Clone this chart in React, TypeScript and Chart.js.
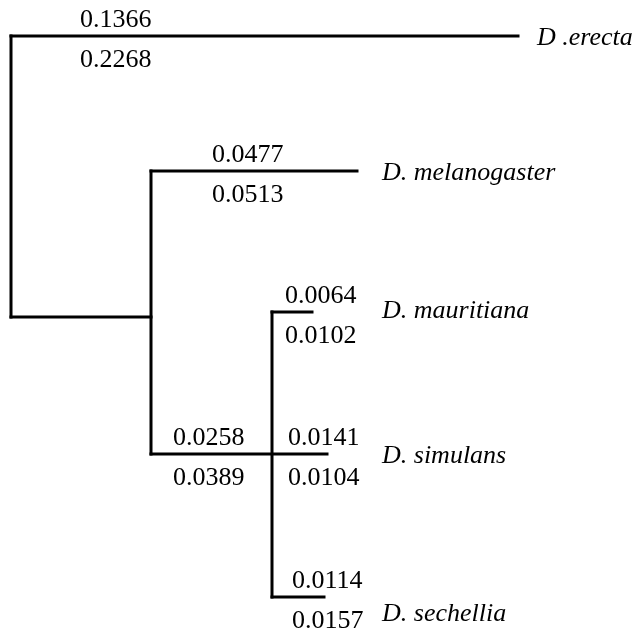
import React, { useEffect, useRef } from "react";
import { Chart, registerables } from "chart.js";

Chart.register(...registerables);

// Taxa (tips), top to bottom
const taxa = ["D .erecta", "D. melanogaster", "D. mauritiana", "D. simulans", "D. sechellia"];
// Vertical layout row of each tip
const tipRow = [0, 0.963, 1.968, 2.98, 4.0];
// Horizontal end of each tip branch (layout depth units)
const tipEnd = [5.07, 3.46, 3.01, 3.16, 3.13];
// Depth of the node each tip branch starts from
const tipParent = [0, 1.4, 2.61, 1.4, 2.61];

// Internal nodes: depth and vertical extent (rows)
const nodeDepth = [0, 1.4, 2.61];
const nodeTop = [0, 0.963, 1.968];
const nodeBottom = [2.004, 2.98, 4.0];
// Row at which root connects to node 1
const node1Row = 2.004;

// Branch values printed above / below each tip branch
const upperValues = ["0.1366", "0.0477", "0.0064", "0.0141", "0.0114"];
const lowerValues = ["0.2268", "0.0513", "0.0102", "0.0104", "0.0157"];
const valueAnchor = [0.69, 2.01, 2.74, 2.77, 2.81];
// Internal branch (node1 -> simulans clade) values
const internalUpper = "0.0258";
const internalLower = "0.0389";
const internalAnchor = 1.62;
const internalRow = 2.98;

export default function App() {
  const ref = useRef<HTMLCanvasElement | null>(null);

  useEffect(() => {
    document.body.style.margin = "0";
    const canvas = ref.current;
    if (!canvas) return;

    const seg = (x1: number, y1: number, x2: number, y2: number) => ({
      data: [
        { x: x1, y: y1 },
        { x: x2, y: y2 },
      ],
      showLine: true,
      borderColor: "#000",
      backgroundColor: "#000",
      borderWidth: 3,
      borderCapStyle: "square" as const,
      pointRadius: 0,
      pointHoverRadius: 0,
    });

    const datasets: any[] = [];
    nodeDepth.forEach((d, i) => datasets.push(seg(d, nodeTop[i], d, nodeBottom[i])));
    datasets.push(seg(nodeDepth[0], node1Row, nodeDepth[1], node1Row));
    taxa.forEach((_, i) => datasets.push(seg(tipParent[i], tipRow[i], tipEnd[i], tipRow[i])));

    const fs = 26;
    const capMid = fs * 0.34;
    const textPlugin = {
      id: "treeText",
      afterDatasetsDraw(chart: any) {
        const { ctx, scales } = chart;
        const xs = scales.x;
        const ys = scales.y;
        ctx.save();
        ctx.fillStyle = "#000";
        ctx.textBaseline = "alphabetic";
        ctx.textAlign = "left";
        ctx.font = `${fs}px "Liberation Serif", "Times New Roman", serif`;
        const above = -18;
        const below = 22;
        taxa.forEach((_, i) => {
          const px = xs.getPixelForValue(valueAnchor[i]);
          const py = ys.getPixelForValue(tipRow[i]);
          ctx.fillText(upperValues[i], px, py + above + capMid);
          ctx.fillText(lowerValues[i], px, py + below + capMid);
        });
        {
          const px = xs.getPixelForValue(internalAnchor);
          const py = ys.getPixelForValue(internalRow);
          ctx.fillText(internalUpper, px, py + above + capMid);
          ctx.fillText(internalLower, px, py + below + capMid);
        }
        ctx.font = `italic ${fs}px "Liberation Serif", "Times New Roman", serif`;
        taxa.forEach((t, i) => {
          const labelX = i === 0 ? tipEnd[i] + 0.19 : 3.71;
          const dy = i === 4 ? 15 : i === 2 ? -3 : 0;
          const px = xs.getPixelForValue(labelX);
          const py = ys.getPixelForValue(tipRow[i]);
          ctx.fillText(t, px, py + dy + capMid);
        });
        ctx.restore();
      },
    };

    const chart = new Chart(canvas, {
      type: "scatter",
      data: { datasets },
      options: {
        animation: false,
        responsive: false,
        events: [],
        layout: { padding: 0 },
        plugins: { legend: { display: false }, tooltip: { enabled: false } },
        scales: {
          x: { type: "linear", min: -0.11, max: 6.3, display: false },
          y: { type: "linear", min: -36 / 140.25, max: (633 - 36) / 140.25, reverse: true, display: false },
        },
      },
      plugins: [textPlugin],
    });
    return () => chart.destroy();
  }, []);

  return (
    <div style={{ width: 641, height: 633, background: "#fff" }}>
      <canvas ref={ref} width={641} height={633} style={{ display: "block" }} />
    </div>
  );
}
